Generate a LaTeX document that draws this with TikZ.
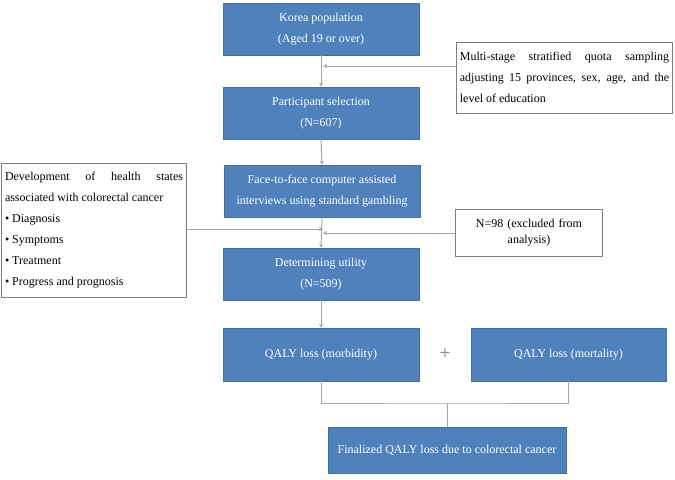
\documentclass[tikz,border=0pt]{standalone}
\usepackage{fontspec}
\setmainfont{Liberation Serif}
\usetikzlibrary{arrows.meta}
\definecolor{boxblue}{HTML}{4F81BD}
\definecolor{boxedge}{HTML}{41719C}
\definecolor{linegrey}{HTML}{A6A6A6}
\definecolor{noteedge}{HTML}{7F7F7F}
\begin{document}
\begin{tikzpicture}[x=0.75pt,y=-0.75pt,
    bluebox/.style={draw=boxedge,fill=boxblue,text=white,align=center,inner sep=0pt,
        minimum width=147pt,minimum height=39pt,font=\fontsize{9}{16}\selectfont},
    notebox/.style={draw=noteedge,fill=white,inner ysep=0pt,inner xsep=2.5pt,align=justify,
        font=\fontsize{9}{15.75}\selectfont},
    link/.style={draw=linegrey,line width=0.75pt},
    arr/.style={link,-{Stealth[length=3pt,width=3pt]}}]
    \useasboundingbox (0,0) rectangle (675,479);
    \node[bluebox] (korea) at (321,29) {Korea population\\(Aged 19 or over)};
    \node[bluebox] (select) at (321,113) {Participant selection\\(N=607)};
    \node[bluebox] (face) at (322,191) {Face-to-face computer assisted\\interviews using standard gambling};
    \node[bluebox] (util) at (321,274) {Determining utility\\(N=509)};
    \node[bluebox,minimum height=39.75pt] (morb) at (321,354.5) {QALY loss (morbidity)};
    \node[bluebox,minimum width=146.25pt,minimum height=39.75pt] (mort) at (568.5,354.5) {QALY loss (mortality)};
    \node[bluebox,minimum width=178.5pt,minimum height=34.5pt] (final) at (447,450) {Finalized QALY loss due to colorectal cancer};
    \node[notebox,text width=157pt,minimum height=53.25pt] (sampling) at (564.5,77.5)
        {Multi-stage stratified quota sampling\linebreak adjusting 15 provinces, sex, age, and the\linebreak level of education};
    \node[notebox,text width=133.5pt,minimum height=100.5pt] (health) at (94,230)
        {Development of health states\linebreak associated with colorectal cancer\\%
         \textbullet\ Diagnosis\\\textbullet\ Symptoms\\\textbullet\ Treatment\\\textbullet\ Progress and prognosis};
    \node[notebox,align=center,text width=105pt,minimum height=35.25pt,font=\fontsize{9}{12}\selectfont] (excl) at (529,232.5)
        {N=98 (excluded from\\analysis)};
    \node[text=noteedge,font=\fontsize{15}{15}\selectfont] (plus) at (445,354) {+};
    \coordinate (jsamp) at (323,66);
    \coordinate (jhealth) at (323,229);
    \coordinate (jexcl) at (323,233);
    \coordinate (jloss) at (447,403);
    \draw[arr] (korea.south) -- (select.north);
    \draw[arr] (sampling.west |- jsamp) -- (jsamp);
    \draw[arr] (select.south) -- (face.north);
    \draw[arr] (face.south) -- (util.north);
    \draw[arr] (health.east |- jhealth) -- (jhealth);
    \draw[arr] (excl.west |- jexcl) -- (jexcl);
    \draw[arr] (util.south) -- (morb.north);
    \draw[link] (morb.south) |- (jloss) -| (mort.south);
    \draw[link] (jloss) -- (final.north);
\end{tikzpicture}
\end{document}
